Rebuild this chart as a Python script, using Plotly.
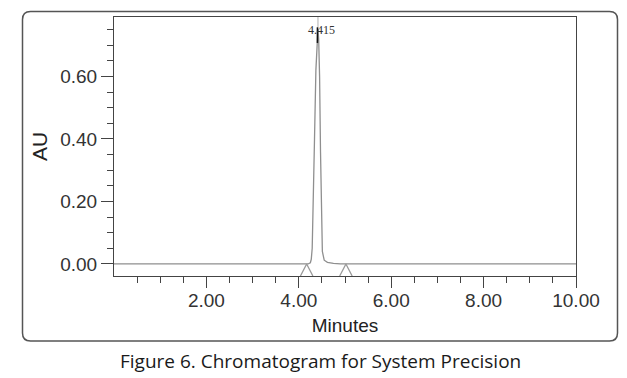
import plotly.graph_objects as go

# ---- data ----
time_min = [0.0, 4.20, 4.25, 4.27, 4.29, 4.31, 4.34, 4.37, 4.40, 4.415,
            4.43, 4.45, 4.47, 4.49, 4.51, 4.55, 4.62, 4.75, 4.90, 10.0]
absorbance = [0.0, 0.0, 0.004, 0.015, 0.05, 0.16, 0.40, 0.62, 0.73, 0.752,
              0.72, 0.60, 0.36, 0.13, 0.04, 0.012, 0.005, 0.002, 0.0, 0.0]
peak_rt = [4.415]
peak_height = [0.752]
peak_labels = ["4.415"]
baseline_events = [4.17, 5.02]

x_tick_vals = [2, 4, 6, 8, 10]
x_tick_text = ["2.00", "4.00", "6.00", "8.00", "10.00"]
x_minor_vals = [0.5, 1.0, 1.5, 2.5, 3.0, 3.5, 4.5, 5.0, 5.5, 6.5, 7.0, 7.5, 8.5, 9.0, 9.5]
y_tick_vals = [0.0, 0.2, 0.4, 0.6]
y_tick_text = ["0.00", "0.20", "0.40", "0.60"]
y_minor_vals = [0.05, 0.10, 0.15, 0.25, 0.30, 0.35, 0.45, 0.50, 0.55, 0.65, 0.70, 0.75]

X_RANGE = [0, 10]
Y_RANGE = [-0.0385, 0.79]

W, H = 627, 378
ML, MR, MT, MB = 114, 51, 17, 102
PW, PH = W - ML - MR, H - MT - MB

def px_to_paper_x(px):
    return (px - ML) / PW

def px_to_paper_y(py):
    return (H - MB - py) / PH

fig = go.Figure()

# chromatogram trace
fig.add_trace(go.Scatter(x=time_min, y=absorbance, mode="lines",
                         line=dict(color="#8f8f8f", width=1.3),
                         hoverinfo="skip", showlegend=False))

# peak marker line up to the top
for rt, h in zip(peak_rt, peak_height):
    fig.add_trace(go.Scatter(x=[rt, rt], y=[h, Y_RANGE[1]], mode="lines",
                             line=dict(color="#b0b0b0", width=1),
                             hoverinfo="skip", showlegend=False))
    fig.add_trace(go.Scatter(x=[rt - 0.012, rt - 0.012], y=[h - 0.045, h + 0.005], mode="lines",
                             line=dict(color="#111111", width=1.5),
                             hoverinfo="skip", showlegend=False))

# baseline event triangles
for ev in baseline_events:
    hw = 0.135
    fig.add_trace(go.Scatter(x=[ev - hw, ev, ev + hw], y=[Y_RANGE[0], 0.0, Y_RANGE[0]],
                             mode="lines", line=dict(color="#9a9a9a", width=1.3),
                             hoverinfo="skip", showlegend=False))

for rt, h, lab in zip(peak_rt, peak_height, peak_labels):
    fig.add_annotation(x=rt, y=h, text=lab, showarrow=False, xshift=4, yshift=-1,
                       font=dict(family="Liberation Serif", size=12, color="#333333"),
                       xanchor="center", yanchor="middle")

# outer rounded frame
x0, x1, y0, y1, r = 22.5, 617.5, 11.5, 341, 8
def P(px, py):
    return f"{px_to_paper_x(px):.5f},{px_to_paper_y(py):.5f}"
path = (f"M {P(x0 + r, y0)} L {P(x1 - r, y0)} Q {P(x1, y0)} {P(x1, y0 + r)} "
        f"L {P(x1, y1 - r)} Q {P(x1, y1)} {P(x1 - r, y1)} "
        f"L {P(x0 + r, y1)} Q {P(x0, y1)} {P(x0, y1 - r)} "
        f"L {P(x0, y0 + r)} Q {P(x0, y0)} {P(x0 + r, y0)} Z")
fig.add_shape(type="path", path=path, xref="paper", yref="paper",
              line=dict(color="#555555", width=1.5), layer="below")

# caption
fig.add_annotation(x=px_to_paper_x(320), y=px_to_paper_y(361), xref="paper", yref="paper",
                   text="Figure 6. Chromatogram for System Precision", showarrow=False,
                   font=dict(family="Open Sans", size=19, color="#1a1a1a"),
                   xanchor="center", yanchor="middle")

tick_font = dict(family="Liberation Sans", size=19, color="#333333")
fig.update_layout(
    width=W, height=H,
    margin=dict(l=ML, r=MR, t=MT, b=MB),
    paper_bgcolor="white", plot_bgcolor="white",
    xaxis=dict(range=X_RANGE, tickmode="array", tickvals=x_tick_vals, ticktext=x_tick_text,
               ticks="outside", ticklen=11, tickwidth=1, tickcolor="#444444",
               ticklabelstandoff=-4,
               minor=dict(tickmode="array", tickvals=x_minor_vals, ticks="outside",
                          ticklen=6, tickcolor="#444444", tickwidth=1, showgrid=False),
               showgrid=False, zeroline=False, showline=True, linecolor="#444444",
               linewidth=1, mirror=True, tickfont=tick_font,
               title=dict(text="Minutes", font=dict(family="Liberation Sans", size=19, color="#222222"),
                          standoff=8)),
    yaxis=dict(range=Y_RANGE, tickmode="array", tickvals=y_tick_vals, ticktext=y_tick_text,
               ticks="outside", ticklen=12, tickwidth=1, tickcolor="#444444",
               minor=dict(tickmode="array", tickvals=y_minor_vals, ticks="outside",
                          ticklen=6, tickcolor="#444444", tickwidth=1, showgrid=False),
               showgrid=False, zeroline=False, showline=True, linecolor="#444444",
               linewidth=1, mirror=True, tickfont=tick_font,
               title=dict(text="AU", font=dict(family="Liberation Sans", size=21, color="#222222"),
                          standoff=6)),
)

fig.write_html("out.html", config={"displayModeBar": False},
               post_script="document.body.style.margin='0px';document.body.style.overflow='hidden';")
